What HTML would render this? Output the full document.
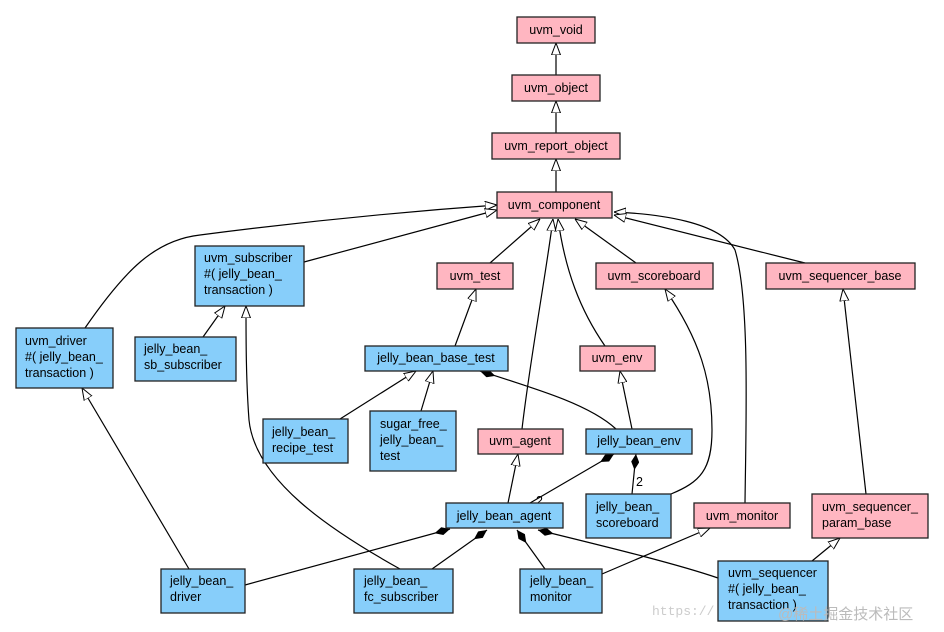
<!DOCTYPE html>
<html><head><meta charset="utf-8"><style>
html,body{margin:0;padding:0;background:#fff;width:944px;height:632px;overflow:hidden}
svg text{font-family:"Liberation Sans","Noto Sans CJK SC",sans-serif;font-size:12.5px;fill:#000}
.p{fill:#ffb6c1;stroke:#222;stroke-width:1.3}
.b{fill:#87cefa;stroke:#222;stroke-width:1.3}
.e{fill:none;stroke:#000;stroke-width:1.2}
</style></head><body>
<svg width="944" height="632" viewBox="0 0 944 632" xmlns="http://www.w3.org/2000/svg">
<defs>
<marker id="t" viewBox="0 0 12 10" refX="12" refY="5" markerWidth="12" markerHeight="10" markerUnits="userSpaceOnUse" orient="auto"><path d="M0,0.5 L12,5 L0,9.5 Z" fill="#fff" stroke="#000" stroke-width="1"/></marker>
<marker id="d" viewBox="0 0 16 8" refX="0" refY="4" markerWidth="16" markerHeight="8" markerUnits="userSpaceOnUse" orient="auto"><path d="M0,4 L8,0 L16,4 L8,8 Z" fill="#000"/></marker>
</defs>
<path class="e" marker-end="url(#t)" d="M556,75 L556,43"/>
<path class="e" marker-end="url(#t)" d="M556,133 L556,101"/>
<path class="e" marker-end="url(#t)" d="M556,192 L556,159"/>
<path class="e" marker-end="url(#t)" d="M85,328 C125,270 155,240 200,235 C300,222 400,212 497,205"/>
<path class="e" marker-end="url(#t)" d="M304,262 L497,210"/>
<path class="e" marker-end="url(#t)" d="M490,263 L540,219"/>
<path class="e" marker-end="url(#t)" d="M522,429 C530,360 545,280 553,219"/>
<path class="e" marker-end="url(#t)" d="M605,346 C580,310 565,270 558,219"/>
<path class="e" marker-end="url(#t)" d="M636,263 L575,219"/>
<path class="e" marker-end="url(#t)" d="M745,503 C746,420 750,300 735,250 C720,222 660,214 614,212"/>
<path class="e" marker-end="url(#t)" d="M805,263 L614,215"/>
<path class="e" marker-end="url(#t)" d="M203,337 L225,306"/>
<path class="e" marker-end="url(#t)" d="M400,569 C330,530 255,480 249,420 C246,380 246,340 246,306"/>
<path class="e" marker-end="url(#t)" d="M189,569 L82,388"/>
<path class="e" marker-end="url(#t)" d="M455,346 L476,289"/>
<path class="e" marker-end="url(#t)" d="M340,419 L416,371"/>
<path class="e" marker-end="url(#t)" d="M421,411 L433,371"/>
<path class="e" marker-end="url(#t)" d="M632,429 L620,371"/>
<path class="e" marker-end="url(#t)" d="M671,494 C700,482 712,470 712,430 C712,380 700,340 665,289"/>
<path class="e" marker-end="url(#t)" d="M508,503 L518,454"/>
<path class="e" marker-end="url(#t)" d="M866,494 L843,289"/>
<path class="e" marker-end="url(#t)" d="M812,561 L840,538"/>
<path class="e" marker-end="url(#t)" d="M602,574 L710,528"/>
<path class="e" marker-start="url(#d)" d="M480,371 C540,390 590,405 616,429"/>
<path class="e" marker-start="url(#d)" d="M614,454 L530,503"/>
<path class="e" marker-start="url(#d)" d="M636,454 L632,494"/>
<path class="e" marker-start="url(#d)" d="M450,529 L245,585"/>
<path class="e" marker-start="url(#d)" d="M487,530 L432,569"/>
<path class="e" marker-start="url(#d)" d="M517,530 L545,569"/>
<path class="e" marker-start="url(#d)" d="M538,530 C620,550 680,565 718,578"/>
<text x="536" y="505">2</text>
<text x="636" y="486">2</text>
<rect class="p" x="517" y="17" width="78" height="26"/><text x="556" y="34" text-anchor="middle">uvm_void</text>
<rect class="p" x="512" y="75" width="88" height="26"/><text x="556" y="92" text-anchor="middle">uvm_object</text>
<rect class="p" x="492" y="133" width="128" height="26"/><text x="556" y="150" text-anchor="middle">uvm_report_object</text>
<rect class="p" x="497" y="192" width="115" height="26"/><text x="554" y="209" text-anchor="middle">uvm_component</text>
<rect class="b" x="195" y="246" width="109" height="60"/><text x="204" y="262">uvm_subscriber</text><text x="204" y="278">#( jelly_bean_</text><text x="204" y="294">transaction )</text>
<rect class="p" x="437" y="263" width="76" height="26"/><text x="475" y="280" text-anchor="middle">uvm_test</text>
<rect class="p" x="596" y="263" width="117" height="26"/><text x="654" y="280" text-anchor="middle">uvm_scoreboard</text>
<rect class="p" x="766" y="263" width="149" height="26"/><text x="840" y="280" text-anchor="middle">uvm_sequencer_base</text>
<rect class="b" x="16" y="328" width="97" height="60"/><text x="25" y="345">uvm_driver</text><text x="25" y="361">#( jelly_bean_</text><text x="25" y="377">transaction )</text>
<rect class="b" x="135" y="337" width="101" height="44"/><text x="144" y="353">jelly_bean_</text><text x="144" y="369">sb_subscriber</text>
<rect class="b" x="365" y="346" width="143" height="25"/><text x="436" y="362" text-anchor="middle">jelly_bean_base_test</text>
<rect class="p" x="580" y="346" width="75" height="25"/><text x="617" y="362" text-anchor="middle">uvm_env</text>
<rect class="b" x="263" y="419" width="85" height="44"/><text x="272" y="436">jelly_bean_</text><text x="272" y="452">recipe_test</text>
<rect class="b" x="370" y="411" width="86" height="60"/><text x="380" y="428">sugar_free_</text><text x="380" y="444">jelly_bean_</text><text x="380" y="460">test</text>
<rect class="p" x="478" y="429" width="85" height="25"/><text x="520" y="445" text-anchor="middle">uvm_agent</text>
<rect class="b" x="586" y="429" width="106" height="25"/><text x="639" y="445" text-anchor="middle">jelly_bean_env</text>
<rect class="b" x="586" y="494" width="85" height="44"/><text x="596" y="511">jelly_bean_</text><text x="596" y="527">scoreboard</text>
<rect class="p" x="694" y="503" width="96" height="25"/><text x="742" y="520" text-anchor="middle">uvm_monitor</text>
<rect class="p" x="812" y="494" width="116" height="44"/><text x="822" y="511">uvm_sequencer_</text><text x="822" y="527">param_base</text>
<rect class="b" x="446" y="503" width="117" height="25"/><text x="504" y="520" text-anchor="middle">jelly_bean_agent</text>
<rect class="b" x="161" y="569" width="84" height="44"/><text x="170" y="585">jelly_bean_</text><text x="170" y="601">driver</text>
<rect class="b" x="354" y="569" width="99" height="44"/><text x="364" y="585">jelly_bean_</text><text x="364" y="601">fc_subscriber</text>
<rect class="b" x="520" y="569" width="82" height="44"/><text x="530" y="585">jelly_bean_</text><text x="530" y="601">monitor</text>
<rect class="b" x="718" y="561" width="110" height="60"/><text x="728" y="577">uvm_sequencer</text><text x="728" y="593">#( jelly_bean_</text><text x="728" y="609">transaction )</text>
<text x="652" y="615" style="fill:#ccc;font-family:'Liberation Mono',monospace;font-size:13px">https://</text>
<text x="778" y="619" style="fill:#bbb;font-size:15px">@稀土掘金技术社区</text>
</svg>
</body></html>
